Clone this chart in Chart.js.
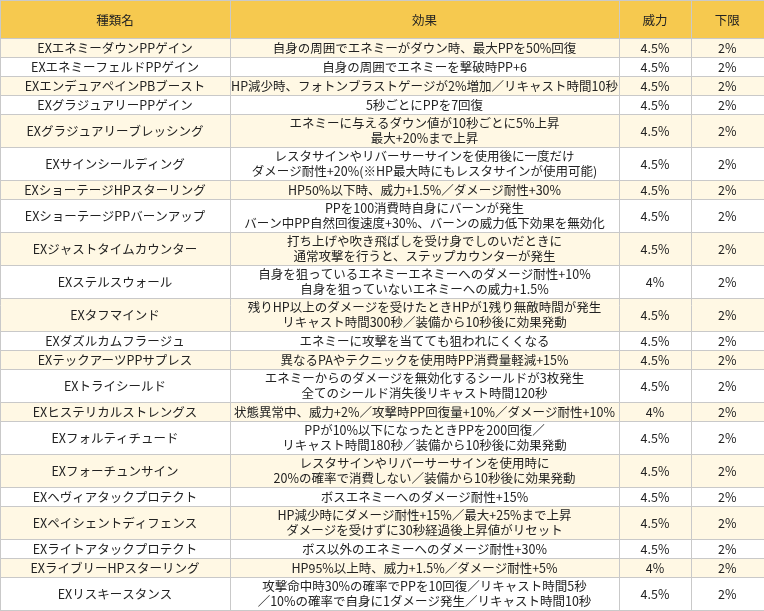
<!DOCTYPE html>
<html>
<head>
<meta charset="utf-8">
<script src="https://cdn.jsdelivr.net/npm/chart.js@4/dist/chart.umd.min.js"></script>
<style>
	body { margin: 0; background: #fff; }
	#wrap { width: 764px; height: 611px; }
</style>
</head>
<body>
<div id="wrap"><canvas id="c" width="764" height="611"></canvas></div>
<script>
// table contents
var headers = ["種類名", "効果", "威力", "下限"];
var names = [
	"EXエネミーダウンPPゲイン", "EXエネミーフェルドPPゲイン", "EXエンデュアペインPBブースト",
	"EXグラジュアリーPPゲイン", "EXグラジュアリーブレッシング", "EXサインシールディング",
	"EXショーテージHPスターリング", "EXショーテージPPバーンアップ", "EXジャストタイムカウンター",
	"EXステルスウォール", "EXタフマインド", "EXダズルカムフラージュ", "EXテックアーツPPサプレス",
	"EXトライシールド", "EXヒステリカルストレングス", "EXフォルティチュード", "EXフォーチュンサイン",
	"EXヘヴィアタックプロテクト", "EXペイシェントディフェンス", "EXライトアタックプロテクト",
	"EXライブリーHPスターリング", "EXリスキースタンス"
];
var effects = [
	["自身の周囲でエネミーがダウン時、最大PPを50%回復"],
	["自身の周囲でエネミーを撃破時PP+6"],
	["HP減少時、フォトンブラストゲージが2%増加／リキャスト時間10秒"],
	["5秒ごとにPPを7回復"],
	["エネミーに与えるダウン値が10秒ごとに5%上昇", "最大+20%まで上昇"],
	["レスタサインやリバーサーサインを使用後に一度だけ", "ダメージ耐性+20%(※HP最大時にもレスタサインが使用可能)"],
	["HP50%以下時、威力+1.5%／ダメージ耐性+30%"],
	["PPを100消費時自身にバーンが発生", "バーン中PP自然回復速度+30%、バーンの威力低下効果を無効化"],
	["打ち上げや吹き飛ばしを受け身でしのいだときに", "通常攻撃を行うと、ステップカウンターが発生"],
	["自身を狙っているエネミーエネミーへのダメージ耐性+10%", "自身を狙っていないエネミーへの威力+1.5%"],
	["残りHP以上のダメージを受けたときHPが1残り無敵時間が発生", "リキャスト時間300秒／装備から10秒後に効果発動"],
	["エネミーに攻撃を当てても狙われにくくなる"],
	["異なるPAやテクニックを使用時PP消費量軽減+15%"],
	["エネミーからのダメージを無効化するシールドが3枚発生", "全てのシールド消失後リキャスト時間120秒"],
	["状態異常中、威力+2%／攻撃時PP回復量+10%／ダメージ耐性+10%"],
	["PPが10%以下になったときPPを200回復／", "リキャスト時間180秒／装備から10秒後に効果発動"],
	["レスタサインやリバーサーサインを使用時に", "20%の確率で消費しない／装備から10秒後に効果発動"],
	["ボスエネミーへのダメージ耐性+15%"],
	["HP減少時にダメージ耐性+15%／最大+25%まで上昇", "ダメージを受けずに30秒経過後上昇値がリセット"],
	["ボス以外のエネミーへのダメージ耐性+30%"],
	["HP95%以上時、威力+1.5%／ダメージ耐性+5%"],
	["攻撃命中時30%の確率でPPを10回復／リキャスト時間5秒", "／10%の確率で自身に1ダメージ発生／リキャスト時間10秒"]
];
var power = [4.5, 4.5, 4.5, 4.5, 4.5, 4.5, 4.5, 4.5, 4.5, 4, 4.5, 4.5, 4.5, 4.5, 4, 4.5, 4.5, 4.5, 4.5, 4.5, 4, 4.5];
var lower = [2, 2, 2, 2, 2, 2, 2, 2, 2, 2, 2, 2, 2, 2, 2, 2, 2, 2, 2, 2, 2, 2];

// layout
var colEdges = [0, 230, 619, 691, 763.5];
var headerH = 38, singleH = 19, doubleH = 33;
var rowEdges = [0, headerH];
effects.forEach(function(e){
	rowEdges.push(rowEdges[rowEdges.length - 1] + (e.length > 1 ? doubleH : singleH));
});
var FONT = '12.5px "Noto Sans CJK JP", "Noto Sans", sans-serif';

var tablePlugin = {
	id: "table",
	beforeDatasetsDraw: function(chart){
		var ctx = chart.ctx, sx = chart.scales.x, sy = chart.scales.y;
		var X = function(v){ return sx.getPixelForValue(v); };
		var Y = function(v){ return sy.getPixelForValue(v); };
		ctx.save();
		// backgrounds
		ctx.fillStyle = "#F6C94F";
		ctx.fillRect(X(0), Y(0), X(764) - X(0), Y(headerH) - Y(0));
		for (var i = 0; i < names.length; i++){
			ctx.fillStyle = (i % 2 == 0) ? "#FFF8E4" : "#FFFFFF";
			ctx.fillRect(X(0), Y(rowEdges[i + 1]), X(764) - X(0), Y(rowEdges[i + 2]) - Y(rowEdges[i + 1]));
		}
		// grid
		ctx.strokeStyle = "#C9C9C9";
		ctx.lineWidth = 1;
		ctx.beginPath();
		rowEdges.forEach(function(r){
			var y = Math.round(Y(r)) + 0.5;
			if (r == 0) y = 0.5;
			ctx.moveTo(X(0), y); ctx.lineTo(X(764), y);
		});
		colEdges.forEach(function(c){
			var x = Math.round(X(c)) + 0.5;
			if (c == 0) x = 0.5;
			ctx.moveTo(x, Y(0)); ctx.lineTo(x, Y(611));
		});
		ctx.stroke();
		// text
		ctx.fillStyle = "#222";
		ctx.font = FONT;
		ctx.textAlign = "center";
		ctx.textBaseline = "middle";
		var cx = function(c){ return (X(colEdges[c]) + X(colEdges[c + 1])) / 2; };
		headers.forEach(function(h, c){
			ctx.fillText(h, cx(c), (Y(0) + Y(headerH)) / 2 + 1);
		});
		for (var i = 0; i < names.length; i++){
			var mid = (Y(rowEdges[i + 1]) + Y(rowEdges[i + 2])) / 2 + 0.5;
			ctx.fillText(names[i], cx(0), mid);
			var lines = effects[i];
			for (var k = 0; k < lines.length; k++){
				ctx.fillText(lines[k], cx(1), mid + (k - (lines.length - 1) / 2) * 15);
			}
			ctx.fillText(power[i] + "%", cx(2), mid);
			ctx.fillText(lower[i] + "%", cx(3), mid);
		}
		ctx.restore();
	}
};

new Chart(document.getElementById("c"), {
	type: "scatter",
	data: { datasets: [{ data: [], pointRadius: 0 }] },
	options: {
		responsive: false,
		animation: false,
		layout: { padding: 0 },
		plugins: { legend: { display: false }, tooltip: { enabled: false } },
		scales: {
			x: { type: "linear", min: 0, max: 764, display: false },
			y: { type: "linear", min: 0, max: 611, reverse: true, display: false }
		}
	},
	plugins: [tablePlugin]
});
</script>
</body>
</html>
